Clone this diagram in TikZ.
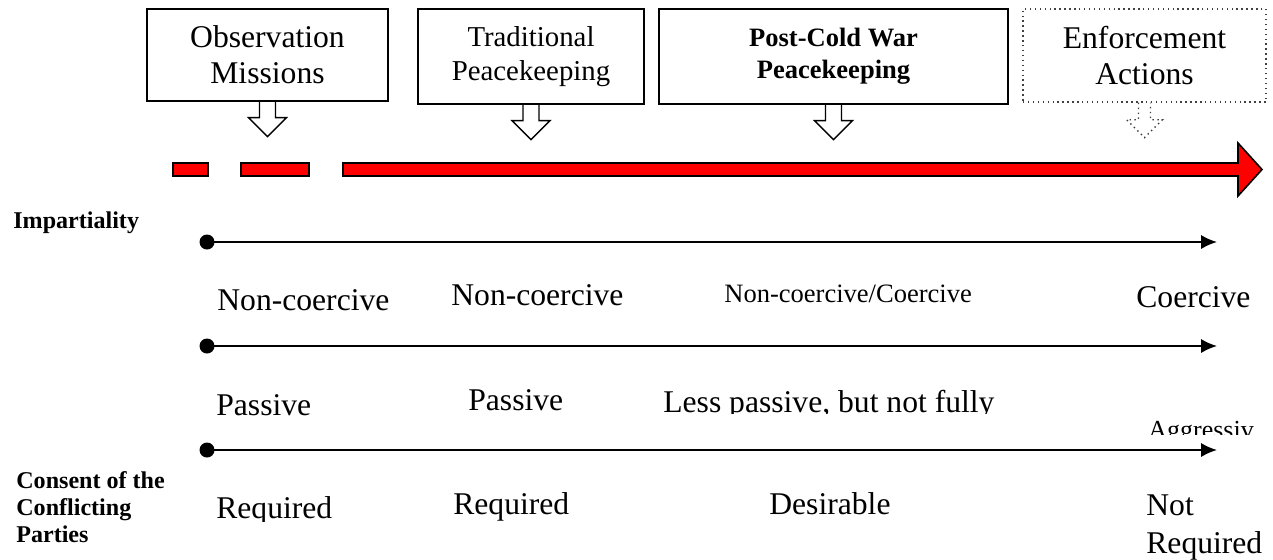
\documentclass[tikz,border=0pt]{standalone}
\usepackage{fontspec}
\setmainfont{Liberation Serif}
\usetikzlibrary{arrows.meta}

\begin{document}
\begin{tikzpicture}[x=0.02cm, y=-0.02cm, >={Latex[length=9pt,width=8pt]},
  box/.style={draw, line width=0.8pt, align=center, inner sep=0pt},
  hollow/.style={draw, line width=0.8pt},
  redbar/.style={draw, line width=0.9pt, fill=red},
  dot/.style={circle, fill, inner sep=0pt, minimum size=0.3cm},
  axis/.style={->, line width=1.1pt},
  big/.style={font=\fontsize{18}{20.5}\selectfont, inner sep=0pt, anchor=base west},
  tag/.style={font=\bfseries\fontsize{13.7}{15.4}\selectfont, inner sep=0pt, align=left}]
\useasboundingbox (0,0) rectangle (1273,559);
% Boxes
\node[box, minimum width=4.82cm, minimum height=1.84cm, font=\fontsize{18}{20.5}\selectfont] (obs) at (267.5,55) {Observation\\Missions};
\node[box, minimum width=4.52cm, minimum height=1.9cm, font=\fontsize{16.4}{19.3}\selectfont] (trad) at (531,56.5) {Traditional\\Peacekeeping};
\node[box, minimum width=6.98cm, minimum height=1.9cm, font=\bfseries\fontsize{15.1}{18.2}\selectfont] (post) at (833.5,56.5) {Post-Cold War\\Peacekeeping};
\node[box, dotted, draw=black!75, minimum width=4.86cm, minimum height=1.86cm, font=\fontsize{18}{20.5}\selectfont] (enf) at (1144.5,55.5) {Enforcement\\Actions};
% Hollow arrows
\foreach \b in {obs,trad,post}
  \draw[hollow] (\b.south) ++(-8,0) -- ++(0,16) -- ++(-11,0) -- ++(19,19) -- ++(19,-19) -- ++(-11,0) -- ++(0,-16);
\draw[hollow, dotted, draw=black!75] (enf.south) ++(-6,0) -- ++(0,17) -- ++(-12,0) -- ++(18,18) -- ++(18,-18) -- ++(-12,0) -- ++(0,-17);
% Red timeline
\draw[redbar] (173,163) rectangle (208,176);
\draw[redbar] (241,163) rectangle (309,176);
\draw[redbar] (343,163) -- (1238,163) -- (1238,143) -- (1262,169.5) -- (1238,196) -- (1238,176) -- (343,176) -- cycle;
% Labels
\node[tag, anchor=base west] (imp) at (13,228) {Impartiality};
\node[tag, anchor=north west] (consent) at (16,471.5) {Consent of the\\Conflicting\\Parties};
% Axes
\node[dot] (impstart) at (207,242) {};
\coordinate (impend) at (1217,242);
\draw[axis] (impstart.center) -- (impend);
\node[dot] (forcestart) at (207,346) {};
\coordinate (forceend) at (1217,346);
\draw[axis] (forcestart.center) -- (forceend);
\node[dot] (constart) at (207,450) {};
\coordinate (conend) at (1217,450);
\draw[axis] (constart.center) -- (conend);
% Use of force
\node[big] (nc1) at (217,310) {Non-coercive};
\node[big] (nc2) at (451,305) {Non-coercive};
\node[big, font=\fontsize{15.1}{17}\selectfont] (ncc) at (724,302) {Non-coercive/Coercive};
\node[big] (co) at (1136,307) {Coercive};
% Posture
\node[big] (pa1) at (216,415) {Passive};
\node[big] (pa2) at (468,410) {Passive};
\begin{scope}
\clip (600,380) rectangle (1100,413);
\node[big] (lp) at (663,412) {Less passive, but not fully};
\end{scope}
\begin{scope}
\clip (1100,400) rectangle (1273,434);
\node[big, font=\fontsize{14.8}{17}\selectfont] (ag) at (1148,438) {Aggressiv};
\end{scope}
% Consent
\begin{scope}
\clip (150,480) rectangle (400,521);
\node[big] (rq1) at (216,518) {Required};
\end{scope}
\node[big] (rq2) at (453,514) {Required};
\node[big] (de) at (769,514) {Desirable};
\node[big, anchor=north west, align=left, font=\fontsize{18}{21.6}\selectfont] (nr) at (1146,494) {Not\\Required};
\end{tikzpicture}
\end{document}
